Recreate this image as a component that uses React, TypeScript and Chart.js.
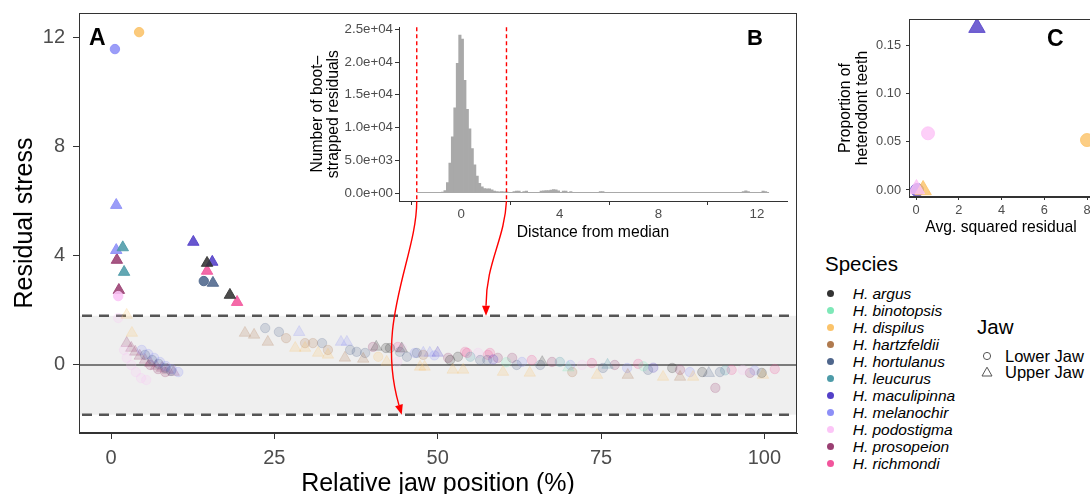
import React, { useEffect, useRef } from 'react';
import { Chart, registerables } from 'chart.js';

Chart.register(...registerables);

const FONT = '"Liberation Sans", Arial, Helvetica, sans-serif';

// ---------- species ----------
const speciesNames = ['H. argus', 'H. binotopsis', 'H. dispilus', 'H. hartzfeldii', 'H. hortulanus', 'H. leucurus', 'H. maculipinna', 'H. melanochir', 'H. podostigma', 'H. prosopeion', 'H. richmondi'];
const speciesColors = ['#333333', '#7ee8b8', '#fbc36a', '#b07a4e', '#4f668c', '#4d9ba8', '#5340c8', '#8d8ff7', '#fcc5f7', '#9a3f72', '#f2559c'];
const jawNames = ['Lower Jaw', 'Upper Jaw'];

// ---------- panel A ----------
const xTicksA = [0, 25, 50, 75, 100];
const yTicksA = [0, 4, 8, 12];
const xRangeA = [-4.9, 105];
const yRangeA = [-2.49, 12.88];
const bandLimits = [-1.82, 1.8];
const fadeLimit = 2;

const argusLower = [[42.1, 0.62], [42.7, 0.62], [51.9, 0.18], [53.1, 0.3], [85.9, -0.11], [90.5, -0.26], [99.6, -0.29]];
const argusUpper = [[14.7, 3.73], [18.2, 2.56], [40.6, 0.66], [44.5, 0.6], [66, 0.1]];
const binotopsisLower = [[60.5, 0.1], [81.5, -0.05]];
const binotopsisUpper = [[70, -0.1]];
const dispilusLower = [[4.3, 12.18], [40.9, 0.3]];
const dispilusUpper = [[2.4, 1.83], [3.2, 1.17], [28.2, 0.62], [29.7, 0.62], [31.7, 0.44], [33.2, 0.37], [42.2, 0.11], [47.3, -0.07], [48, -0.07], [52.3, -0.18], [53.9, -0.18], [60, -0.26], [64.1, -0.29], [74.4, -0.37], [84.5, -0.44], [89.1, -0.44], [99.8, -0.37]];
const hartzfeldiiLower = [[26.8, 0.98], [29.7, 0.8], [30.9, 0.8], [33.2, 0.55], [47.8, 0.37], [70.6, -0.26]];
const hartzfeldiiUpper = [[20.5, 1.17], [21.9, 1.1], [24.0, 0.84], [35.8, 0.26], [38.6, 0.22], [79.1, -0.37], [87.1, -0.44]];
const hortulanusLower = [[14.2, 3.07], [5.2, 0.37], [6.3, 0.18], [7.3, 0.04], [8.3, -0.11], [9.2, -0.22], [23.6, 1.35], [25.7, 1.21], [32.3, 0.8], [36.6, 0.55], [37.6, 0.48], [38.9, 0.44], [44.2, 0.48], [45.3, 0.3], [46.8, 0.44], [56.5, 0.18], [57.6, 0.18], [62.1, 0], [65.7, 0], [75.3, -0.11], [82.2, -0.18], [93.2, -0.26]];
const hortulanusUpper = [[15.6, 3.0], [91.5, -0.3]];
const leucurusLower = [[55.0, 0.3], [68.7, 0.11], [94, -0.2]];
const leucurusUpper = [[1.8, 4.3], [2.0, 3.4], [76, 0.0]];
const maculipinnaLower = [[58.5, 0.2], [83, -0.1]];
const maculipinnaUpper = [[12.6, 4.5], [15.5, 3.77], [50, 0.44]];
const melanochirLower = [[0.6, 11.56], [4.7, 0.55], [5.7, 0.4], [6.6, 0.26], [7.5, 0.11], [8.4, -0.04], [9.3, -0.15], [10.3, -0.26], [46.5, 0.44], [49.5, 0.35], [62.9, 0.11], [70.3, 0], [79, -0.11], [88.6, -0.26], [98.5, -0.2]];
const melanochirUpper = [[0.8, 5.85], [0.8, 4.2], [28.8, 1.2], [35.2, 0.84], [36.1, 0.84], [47.8, 0.44], [48.8, 0.44]];
const podostigmaLower = [[1.1, 2.52], [1.1, 1.72], [2.0, 0.55], [2.4, 0.26], [3.1, 0.0], [3.8, -0.26], [4.6, -0.48], [5.4, -0.55], [43.8, 0.11], [44.5, 0.62], [56.2, 0.44], [72.1, 0], [96.7, -0.18]];
const podostigmaUpper: number[][] = [];
const prosopeionLower = [[6.0, 0], [7.2, -0.15], [8.3, -0.26], [40.1, 0.66], [51.6, 0.26], [59.2, 0.26], [61.4, 0.26], [67.5, 0.11], [77.1, 0], [87.1, -0.18], [92.5, -0.84], [97.8, -0.29]];
const prosopeionUpper = [[0.9, 3.84], [1.2, 2.74], [2.4, 0.8], [3.1, 0.62], [3.7, 0.48], [4.4, 0.33], [5.2, 0.18], [6.0, 0.07], [6.9, -0.04], [7.8, -0.11], [8.7, -0.18], [9.6, -0.26]];
const richmondiLower = [[43.9, 0.66], [54.5, 0.44], [58, 0.44], [54.2, 0.48], [57.7, 0.37], [64.4, 0.18], [73.6, 0.07], [80.7, 0.04], [95, -0.18], [101.6, -0.15]];
const richmondiUpper = [[14.7, 3.44], [19.3, 2.3]];

const lowerJawA = [argusLower, binotopsisLower, dispilusLower, hartzfeldiiLower, hortulanusLower, leucurusLower, maculipinnaLower, melanochirLower, podostigmaLower, prosopeionLower, richmondiLower];
const upperJawA = [argusUpper, binotopsisUpper, dispilusUpper, hartzfeldiiUpper, hortulanusUpper, leucurusUpper, maculipinnaUpper, melanochirUpper, podostigmaUpper, prosopeionUpper, richmondiUpper];

// ---------- panel B (histogram) ----------
const xTicksB = [0, 4, 8, 12];
const yTicksB = [0, 5000, 10000, 15000, 20000, 25000];
const xRangeB = [-2.52, 13.22];
const yRangeB = [-1205, 25300];
const histBins = [-0.75, -0.65, -0.55, -0.45, -0.35, -0.25, -0.15, -0.05, 0.05, 0.15, 0.25, 0.35, 0.45, 0.55, 0.65, 0.75, 0.85, 0.95, 1.05, 1.15, 1.25, 1.35, 1.45, 1.55, 1.65, 1.75, 1.85, 2.15, 2.25, 2.35, 2.55, 2.65, 3.25, 3.35, 3.45, 3.55, 3.65, 3.75, 3.85, 3.95, 4.15, 4.25, 4.45, 5.65, 5.75, 11.45, 11.55, 11.65, 12.25, 12.35];
const histCounts = [150, 400, 1600, 4600, 8600, 13000, 19800, 24100, 23500, 17200, 12800, 9800, 6800, 4300, 2600, 1500, 950, 700, 650, 650, 500, 300, 250, 200, 250, 200, 200, 250, 300, 300, 250, 300, 300, 350, 400, 400, 450, 550, 500, 350, 300, 300, 250, 250, 220, 250, 350, 250, 300, 250];
const histBaseline = [[-1.8, 180], [12.5, 180]];
const cutoffLines = [-1.8, 1.84];
// arrows: from each cutoff line in B to the matching band limit in A (A data coords)
const arrowTargetsA = [[44.5, -1.82], [57.4, 1.8]];

// ---------- panel C ----------
const xTicksC = [0, 2, 4, 6, 8];
const yTicksC = [0, 0.05, 0.1, 0.15];
const xRangeC = [-0.33, 8.28];
const yRangeC = [-0.0073, 0.178];
const cLower = [
  { species: 6, x: 0.05, y: 0.0 },
  { species: 8, x: 0.56, y: 0.059 },
  { species: 2, x: 8.0, y: 0.052 },
];
const cUpper = [
  { species: 8, x: 0.02, y: 0.001 },
  { species: 2, x: 0.33, y: 0.0 },
  { species: 6, x: 2.85, y: 0.169 },
];

// ---------- helpers ----------
function rgba(hex: string, a: number) {
  const n = parseInt(hex.slice(1), 16);
  return `rgba(${(n >> 16) & 255},${(n >> 8) & 255},${n & 255},${a})`;
}

const A_OFFSET = { left: 0, top: 0 };
const B_OFFSET = { left: 300, top: 0 };
const C_OFFSET = { left: 800, top: 0 };

function axisCommon(tickLength: number, fontSize: number, pad: number, cb?: any) {
  const ticks: any = { font: { family: FONT, size: fontSize }, color: '#4d4d4d', padding: pad, maxRotation: 0, autoSkip: false };
  if (cb) ticks.callback = cb;
  return {
    grid: { display: true, drawOnChartArea: false, drawTicks: true, tickLength, color: '#333333', lineWidth: 1 },
    border: { display: true, color: '#333333', width: 1 },
    ticks,
  };
}

function setTicks(vals: number[]) {
  return (s: any) => { s.ticks = vals.map((v) => ({ value: v })); };
}

function fixSize(prop: 'width' | 'height', size: number) {
  return (s: any) => {
    s[prop] = size;
    s.paddingTop = 0; s.paddingBottom = 0; s.paddingLeft = 0; s.paddingRight = 0;
  };
}

function drawText(ctx: CanvasRenderingContext2D, text: string, x: number, y: number, font: string, color: string, align: CanvasTextAlign, baseline: CanvasTextBaseline, rot = 0) {
  ctx.save();
  ctx.translate(x, y);
  if (rot) ctx.rotate(rot);
  ctx.font = font;
  ctx.fillStyle = color;
  ctx.textAlign = align;
  ctx.textBaseline = baseline;
  ctx.fillText(text, 0, 0);
  ctx.restore();
}

function frameArea(ctx: CanvasRenderingContext2D, ca: any) {
  ctx.save();
  ctx.strokeStyle = '#333333';
  ctx.lineWidth = 1;
  ctx.strokeRect(ca.left + 0.5, ca.top + 0.5, ca.right - ca.left - 1, ca.bottom - ca.top - 1);
  ctx.restore();
}

function makeConfigA(): any {
  const datasets: any[] = [];
  speciesNames.forEach((name, i) => {
    const col = speciesColors[i];
    const fill = (ctx: any) => {
      const y = ctx.raw ? ctx.raw.y : 10;
      return rgba(col, Math.abs(y) < fadeLimit ? 0.2 : 0.88);
    };
    datasets.push({
      label: name + ' ' + jawNames[0],
      data: lowerJawA[i].map(([x, y]) => ({ x, y })),
      pointStyle: 'circle',
      pointRadius: 4.7,
      backgroundColor: fill,
      borderColor: fill,
      borderWidth: 1,
    });
    datasets.push({
      label: name + ' ' + jawNames[1],
      data: upperJawA[i].map(([x, y]) => ({ x, y })),
      pointStyle: 'triangle',
      pointRadius: 6.6,
      backgroundColor: fill,
      borderColor: fill,
      borderWidth: 1,
    });
  });

  const bandPlugin = {
    id: 'bandA',
    beforeDatasetsDraw(chart: any) {
      const { ctx, chartArea: ca, scales } = chart;
      const yTop = scales.y.getPixelForValue(bandLimits[1]);
      const yBot = scales.y.getPixelForValue(bandLimits[0]);
      const y0 = scales.y.getPixelForValue(0);
      ctx.save();
      ctx.fillStyle = '#efefef';
      ctx.fillRect(ca.left, yTop, ca.right - ca.left, yBot - yTop);
      ctx.strokeStyle = '#555555';
      ctx.lineWidth = 2.6;
      ctx.setLineDash([10, 7]);
      [yTop, yBot].forEach((yy) => {
        ctx.beginPath();
        ctx.moveTo(ca.left + 3, yy);
        ctx.lineTo(ca.right, yy);
        ctx.stroke();
      });
      ctx.setLineDash([]);
      ctx.lineWidth = 1.4;
      ctx.beginPath();
      ctx.moveTo(ca.left, y0);
      ctx.lineTo(ca.right, y0);
      ctx.stroke();
      ctx.restore();
    },
    afterDraw(chart: any) {
      const { ctx, chartArea: ca } = chart;
      frameArea(ctx, ca);
      drawText(ctx, 'A', 89, 45, `bold 23px ${FONT}`, '#000', 'left', 'alphabetic');
      drawText(ctx, 'Relative jaw position (%)', (ca.left + ca.right) / 2, 490.5, `25px ${FONT}`, '#000', 'center', 'alphabetic');
      drawText(ctx, 'Residual stress', 25, (ca.top + ca.bottom) / 2, `25px ${FONT}`, '#000', 'center', 'middle', -Math.PI / 2);
    },
  };

  return {
    type: 'scatter',
    data: { datasets },
    options: {
      responsive: false,
      animation: false,
      events: [],
      layout: { autoPadding: false, padding: { top: 13, right: 3, left: 0, bottom: 0 } },
      plugins: { legend: { display: false }, tooltip: { enabled: false } },
      scales: {
        x: {
          type: 'linear', min: xRangeA[0], max: xRangeA[1],
          afterFit: fixSize('height', 61),
          afterBuildTicks: setTicks(xTicksA),
          ...axisCommon(6, 20, 7),
        },
        y: {
          type: 'linear', min: yRangeA[0], max: yRangeA[1],
          afterFit: fixSize('width', 79),
          afterBuildTicks: setTicks(yTicksA),
          ...axisCommon(6, 20, 8),
        },
      },
    },
    plugins: [bandPlugin],
  };
}

function makeConfigB(getA: () => any): any {
  const annot = {
    id: 'annotB',
    afterDraw(chart: any) {
      const { ctx, chartArea: ca, scales } = chart;
      ctx.save();
      ctx.strokeStyle = '#ff0000';
      ctx.fillStyle = '#ff0000';
      ctx.lineWidth = 1.4;
      const a = getA();
      cutoffLines.forEach((v, i) => {
        const x = scales.x.getPixelForValue(v);
        ctx.setLineDash([4, 3]);
        ctx.beginPath();
        ctx.moveTo(x, ca.top);
        ctx.lineTo(x, ca.bottom);
        ctx.stroke();
        ctx.setLineDash([]);
        if (!a) return;
        const [tx, ty] = arrowTargetsA[i];
        const ex = a.scales.x.getPixelForValue(tx) + A_OFFSET.left - B_OFFSET.left;
        const ey = a.scales.y.getPixelForValue(ty) + A_OFFSET.top - B_OFFSET.top;
        const sx = x, sy = ca.bottom;
        let c1x, c1y, c2x, c2y;
        if (i === 0) { c1x = sx; c1y = sy + 57; c2x = ex - 27; c2y = ey - 93; }
        else { c1x = sx - 2; c1y = sy + 39; c2x = ex; c2y = ey - 53; }
        const ang = Math.atan2(ey - c2y, ex - c2x);
        const len = 10, hw = 4;
        const bx = ex - Math.cos(ang) * len, by = ey - Math.sin(ang) * len;
        ctx.beginPath();
        ctx.moveTo(sx, sy);
        ctx.bezierCurveTo(c1x, c1y, c2x, c2y, bx, by);
        ctx.stroke();
        ctx.beginPath();
        ctx.moveTo(ex, ey);
        ctx.lineTo(bx + Math.sin(ang) * hw, by - Math.cos(ang) * hw);
        ctx.lineTo(bx - Math.sin(ang) * hw, by + Math.cos(ang) * hw);
        ctx.closePath();
        ctx.fill();
      });
      ctx.restore();
      drawText(ctx, 'B', 447, 45, `bold 22px ${FONT}`, '#000', 'left', 'alphabetic');
      drawText(ctx, 'Distance from median', (ca.left + ca.right) / 2, 236.5, `15.7px ${FONT}`, '#000', 'center', 'alphabetic');
      const cy = (ca.top + ca.bottom) / 2;
      drawText(ctx, 'Number of boot\u2013', 18, cy, `15.7px ${FONT}`, '#000', 'center', 'middle', -Math.PI / 2);
      drawText(ctx, 'strapped residuals', 34, cy, `15.7px ${FONT}`, '#000', 'center', 'middle', -Math.PI / 2);
    },
  };
  const fmtExp = (v: number) => Number(v).toExponential(1).replace(/e([+-])(\d)$/, 'e$10$2');
  return {
    type: 'bar',
    data: {
      datasets: [
        {
          type: 'line',
          data: histBaseline.map(([x, y]) => ({ x, y })),
          borderColor: 'rgba(0,0,0,0)',
          borderWidth: 0,
          pointRadius: 0,
          fill: 'origin',
          backgroundColor: '#a9a9a9',
        },
        {
          type: 'bar',
          data: histBins.map((x, i) => ({ x, y: histCounts[i] })),
          backgroundColor: '#a9a9a9',
          borderWidth: 0,
          barPercentage: 1,
          categoryPercentage: 1,
        },
      ],
    },
    options: {
      responsive: false,
      animation: false,
      events: [],
      layout: { autoPadding: false, padding: { top: 27.3, right: 13, left: 0, bottom: 0 } },
      plugins: { legend: { display: false }, tooltip: { enabled: false } },
      scales: {
        x: {
          type: 'linear', min: xRangeB[0], max: xRangeB[1], offset: false,
          afterFit: fixSize('height', 229),
          afterBuildTicks: setTicks(xTicksB),
          ...axisCommon(4, 13.3, 1.5),
        },
        y: {
          type: 'linear', min: yRangeB[0], max: yRangeB[1],
          afterFit: fixSize('width', 99),
          afterBuildTicks: setTicks(yTicksB),
          ...axisCommon(4, 13.3, 2, fmtExp),
        },
      },
    },
    plugins: [annot],
  };
}

function makeConfigC(): any {
  const mk = (arr: any[], style: string, r: number) => arr.map((p) => ({
    label: speciesNames[p.species],
    data: [{ x: p.x, y: p.y }],
    pointStyle: style,
    pointRadius: r,
    backgroundColor: rgba(speciesColors[p.species], 0.82),
    borderColor: rgba(speciesColors[p.species], 0.82),
    borderWidth: 1,
  }));
  const frame = {
    id: 'frameC',
    afterDraw(chart: any) {
      const { ctx, chartArea: ca } = chart;
      frameArea(ctx, ca);
      drawText(ctx, 'C', 247, 46, `bold 23px ${FONT}`, '#000', 'left', 'alphabetic');
      drawText(ctx, 'Avg. squared residual', (ca.left + ca.right) / 2, 231.5, `15.7px ${FONT}`, '#000', 'center', 'alphabetic');
      const cy = (ca.top + ca.bottom) / 2;
      drawText(ctx, 'Proportion of', 46, cy, `15.7px ${FONT}`, '#000', 'center', 'middle', -Math.PI / 2);
      drawText(ctx, 'heterodont teeth', 63, cy, `15.7px ${FONT}`, '#000', 'center', 'middle', -Math.PI / 2);
    },
  };
  return {
    type: 'scatter',
    data: { datasets: [...mk(cUpper, 'triangle', 9.5), ...mk(cLower, 'circle', 6.5)] },
    options: {
      responsive: false,
      animation: false,
      events: [],
      layout: { autoPadding: false, padding: { top: 19, right: 7, left: 0, bottom: 0 } },
      plugins: { legend: { display: false }, tooltip: { enabled: false } },
      scales: {
        x: {
          type: 'linear', min: xRangeC[0], max: xRangeC[1],
          afterFit: fixSize('height', 43),
          afterBuildTicks: setTicks(xTicksC),
          ...axisCommon(3, 12.8, 3),
        },
        y: {
          type: 'linear', min: yRangeC[0], max: yRangeC[1],
          afterFit: fixSize('width', 109),
          afterBuildTicks: setTicks(yTicksC),
          ...axisCommon(3, 12.8, 5, (v: number) => Number(v).toFixed(2)),
        },
      },
    },
    plugins: [frame],
  };
}

const legendRowY0 = 293.3;
const legendRowStep = 17.0;

export default function App() {
  const refA = useRef<HTMLCanvasElement>(null);
  const refB = useRef<HTMLCanvasElement>(null);
  const refC = useRef<HTMLCanvasElement>(null);

  useEffect(() => {
    let chartA: any = null;
    chartA = new Chart(refA.current as any, makeConfigA());
    const chartB = new Chart(refB.current as any, makeConfigB(() => chartA));
    const chartC = new Chart(refC.current as any, makeConfigC());
    return () => { chartA.destroy(); chartB.destroy(); chartC.destroy(); };
  }, []);

  const abs = (left: number, top: number, w: number, h: number): React.CSSProperties => ({ position: 'absolute', left, top, width: w, height: h });

  return (
    <div style={{ position: 'fixed', left: 0, top: 0, width: 1090, height: 494, overflow: 'hidden', background: '#ffffff', fontFamily: FONT }}>
      <canvas ref={refA} width={800} height={494} style={abs(A_OFFSET.left, A_OFFSET.top, 800, 494)} />
      <canvas ref={refB} width={500} height={430} style={abs(B_OFFSET.left, B_OFFSET.top, 500, 430)} />
      <canvas ref={refC} width={300} height={240} style={abs(C_OFFSET.left, C_OFFSET.top, 300, 240)} />
      {/* Species legend */}
      <div style={{ position: 'absolute', left: 825, top: 271.7 - 0.8465 * 20.5, fontSize: 20.5, lineHeight: 1, color: '#000', whiteSpace: 'nowrap' }}>Species</div>
      {speciesNames.map((n, i) => {
        const yc = legendRowY0 + i * legendRowStep;
        return (
          <React.Fragment key={n}>
            <div style={{ position: 'absolute', left: 830 - 3.5, top: yc - 3.5, width: 7, height: 7, borderRadius: '50%', background: speciesColors[i] }} />
            <div style={{ position: 'absolute', left: 852.7, top: yc + 0.358 * 15.5 - 0.8465 * 15.5, fontSize: 15.5, lineHeight: 1, fontStyle: 'italic', color: '#000', whiteSpace: 'nowrap' }}>{n}</div>
          </React.Fragment>
        );
      })}
      {/* Jaw legend */}
      <div style={{ position: 'absolute', left: 977, top: 334 - 0.8465 * 20.5, fontSize: 20.5, lineHeight: 1, color: '#000', whiteSpace: 'nowrap' }}>Jaw</div>
      {jawNames.map((n, i) => {
        const yc = 356 + i * 16.3;
        return (
          <React.Fragment key={n}>
            <svg style={{ position: 'absolute', left: 981, top: yc - 6 }} width={12} height={12}>
              {i === 0
                ? <circle cx={6} cy={6} r={3.6} fill="none" stroke="#555" strokeWidth={1} />
                : <polygon points="6,1.2 11,10 1,10" fill="none" stroke="#555" strokeWidth={1} />}
            </svg>
            <div style={{ position: 'absolute', left: 1005, top: yc + 0.358 * 16.5 - 0.8465 * 16.5, fontSize: 16.5, lineHeight: 1, color: '#000', whiteSpace: 'nowrap' }}>{n}</div>
          </React.Fragment>
        );
      })}
    </div>
  );
}
